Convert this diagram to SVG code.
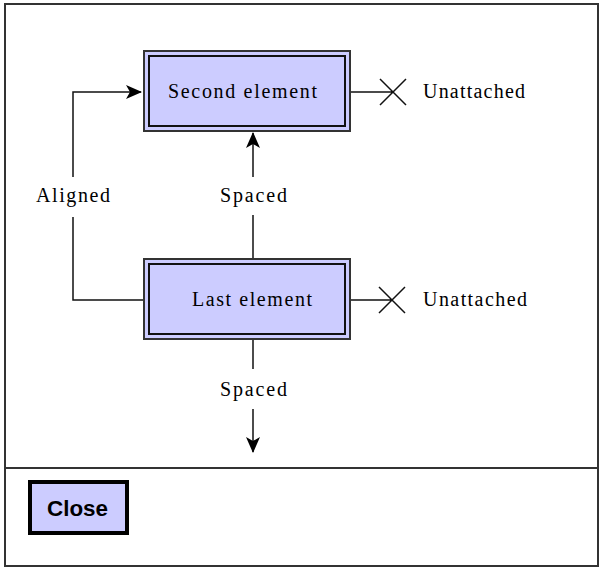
<svg xmlns="http://www.w3.org/2000/svg" width="601" height="570" viewBox="0 0 601 570">
<style>
.frame{fill:#fff;stroke:#333;stroke-width:2}
.outer{fill:#ccccff;stroke:#333;stroke-width:2}
.inner{fill:#ccccff;stroke:#111;stroke-width:2}
.lbl{font-family:"Liberation Serif","Times New Roman",serif;font-size:20px;fill:#000}
.conn{fill:none;stroke:#111;stroke-width:1.5}
.btn{fill:#ccccff;stroke:#000;stroke-width:4}
.btntxt{font-family:"Liberation Sans",Arial,sans-serif;font-size:22px;font-weight:bold;fill:#000}
</style>
<defs>
<marker id="arr" viewBox="0 0 16 14" refX="15" refY="7" markerWidth="16" markerHeight="14" markerUnits="userSpaceOnUse" orient="auto">
<path d="M0,0 L16,7 L0,14 L4,7 Z" fill="#000"/>
</marker>
</defs>
<rect class="frame" x="5" y="4" width="593" height="562"/>
<line x1="5" y1="468" x2="598" y2="468" stroke="#333" stroke-width="2"/>
<g id="connectors">
<path class="conn" d="M73,177 L73,92 L141,92" marker-end="url(#arr)"/>
<path class="conn" d="M73,217 L73,300 L144,300"/>
<text class="lbl" x="36" y="202" textLength="74" lengthAdjust="spacing">Aligned</text>
<path class="conn" d="M253,259 L253,215"/>
<path class="conn" d="M253,177 L253,133" marker-end="url(#arr)"/>
<text class="lbl" x="220" y="202" textLength="67" lengthAdjust="spacing">Spaced</text>
<path class="conn" d="M253,339 L253,369"/>
<path class="conn" d="M253,409 L253,452" marker-end="url(#arr)"/>
<text class="lbl" x="220" y="396" textLength="67" lengthAdjust="spacing">Spaced</text>
<path class="conn" d="M350,92 L393,92 M380,79 L406,105 M380,105 L406,79"/>
<text class="lbl" x="423" y="98" textLength="102" lengthAdjust="spacing">Unattached</text>
<path class="conn" d="M350,300 L392,300 M379,287 L405,313 M379,313 L405,287"/>
<text class="lbl" x="423" y="306" textLength="104" lengthAdjust="spacing">Unattached</text>
</g>
<g id="second-element">
<rect class="outer" x="144" y="51" width="206" height="80"/>
<rect class="inner" x="149" y="56" width="196" height="70"/>
<text class="lbl" x="168" y="98" textLength="149" lengthAdjust="spacing">Second element</text>
</g>
<g id="last-element">
<rect class="outer" x="144" y="259" width="206" height="80"/>
<rect class="inner" x="149" y="264" width="196" height="70"/>
<text class="lbl" x="192" y="306" textLength="120" lengthAdjust="spacing">Last element</text>
</g>
<g id="close-button">
<rect class="btn" x="30" y="482" width="97" height="51"/>
<text class="btntxt" x="47" y="516" textLength="61" lengthAdjust="spacingAndGlyphs">Close</text>
</g>
</svg>
